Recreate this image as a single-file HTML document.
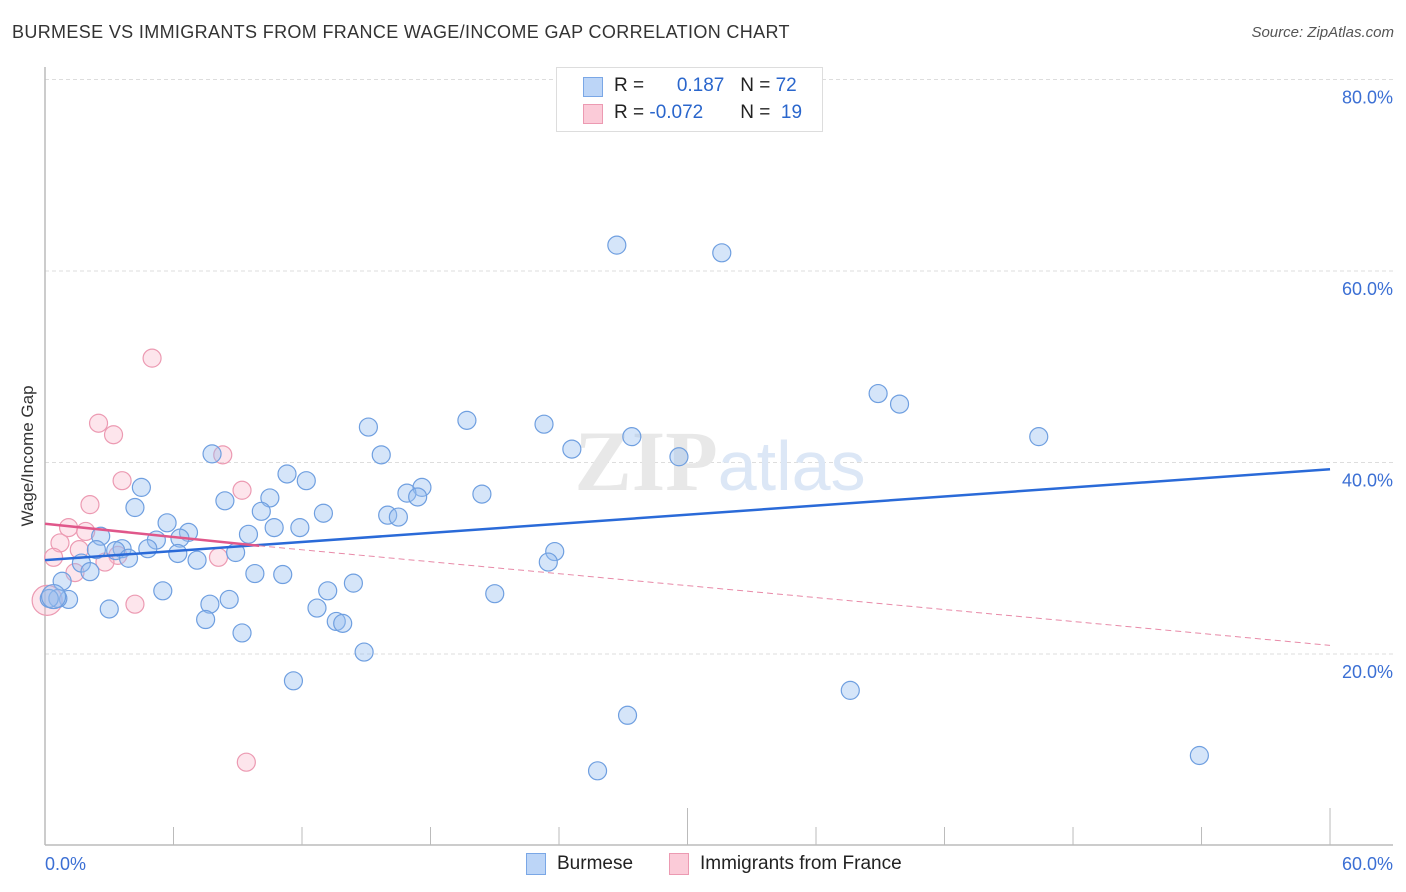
<!DOCTYPE html>
<html><head><meta charset="utf-8"><style>
body{margin:0;background:#fff;font-family:"Liberation Sans",sans-serif;}
#c{position:relative;width:1406px;height:892px;overflow:hidden;}
.t{position:absolute;white-space:nowrap;}
</style></head><body>
<div id="c">
<div class="t" style="left:12px;top:22px;font-size:18px;letter-spacing:0.35px;color:#333;">BURMESE VS IMMIGRANTS FROM FRANCE WAGE/INCOME GAP CORRELATION CHART</div>
<div class="t" style="right:12px;top:24px;font-size:15px;color:#555;font-style:italic;">Source: ZipAtlas.com</div>
<svg id="s" width="1406" height="892" style="position:absolute;left:0;top:0"></svg>
<div class="t" style="left:28px;top:456px;font-size:17px;color:#333;transform:translate(0,-50%) rotate(-90deg);transform-origin:center;width:0;display:flex;justify-content:center;"><span>Wage/Income Gap</span></div>
<div style="position:absolute;left:556px;top:67px;width:265px;height:63px;border:1px solid #ddd;background:#fff;">
 <div style="position:absolute;left:26px;top:9px;width:18px;height:18px;background:#bcd5f7;border:1px solid #7aa7e6"></div>
 <div class="t" style="left:57px;top:7px;font-size:19px;color:#222">R = <span style="color:#2a66cc;display:inline-block;width:75px;text-align:right">0.187</span> &nbsp; N = <span style="color:#2a66cc">72</span></div>
 <div style="position:absolute;left:26px;top:36px;width:18px;height:18px;background:#fbcbd8;border:1px solid #ec9ab2"></div>
 <div class="t" style="left:57px;top:34px;font-size:19px;color:#222">R = <span style="color:#2a66cc;display:inline-block;width:75px;text-align:left">-0.072</span> &nbsp; N = <span style="color:#2a66cc">&nbsp;19</span></div>
</div>
<div style="position:absolute;left:526px;top:853px;width:18px;height:20px;background:#bcd5f7;border:1px solid #7aa7e6"></div>
<div class="t" style="left:557px;top:853px;font-size:19px;color:#222">Burmese</div>
<div style="position:absolute;left:669px;top:853px;width:18px;height:20px;background:#fbcbd8;border:1px solid #ec9ab2"></div>
<div class="t" style="left:700px;top:853px;font-size:19px;color:#222">Immigrants from France</div>
</div>
<script>
const yTicks=[20,40,60,80];
const yTickLabels=["20.0%","40.0%","60.0%","80.0%"];
const xTickLabels=["0.0%","60.0%"];
const blueX=[26.7,31.6,38.9,39.9,46.4,19.7,23.3,15.1,27.4,24.6,29.6,7.8,15.7,11.3,12.2,4.5,20.4,17.6,16.9,17.4,10.5,8.4,4.2,10.1,13.0,16.0,16.5,5.7,10.7,11.9,6.7,2.6,9.5,6.3,5.2,2.4,3.6,3.3,4.8,6.2,8.9,3.9,23.8,23.5,7.1,1.7,2.1,9.8,11.1,14.4,0.8,13.2,5.5,21.0,1.1,0.6,0.2,8.6,7.7,3.0,12.7,13.6,13.9,7.5,9.2,14.9,11.6,37.6,27.2,25.8,53.9,0.4];
const blueY=[62.7,61.9,47.2,46.1,42.7,44.4,44.0,43.7,42.7,41.4,40.6,40.9,40.8,38.8,38.1,37.4,36.7,37.4,36.8,36.4,36.3,36.0,35.3,34.9,34.7,34.5,34.3,33.7,33.2,33.2,32.7,32.3,32.5,32.1,31.9,30.9,31.0,30.8,31.0,30.5,30.6,30.0,30.7,29.6,29.8,29.5,28.6,28.4,28.3,27.4,27.6,26.6,26.6,26.3,25.7,25.8,25.8,25.7,25.2,24.7,24.8,23.4,23.2,23.6,22.2,20.2,17.2,16.2,13.6,7.8,9.4,26.0];
const pinkX=[5.0,2.5,3.2,8.3,3.6,9.2,2.1,1.1,1.9,0.7,1.6,0.4,3.4,2.8,8.1,1.4,4.2,9.4,0.1];
const pinkY=[50.9,44.1,42.9,40.8,38.1,37.1,35.6,33.2,32.8,31.6,30.9,30.1,30.3,29.6,30.1,28.5,25.2,8.7,25.6];
const blueTrend=[[0,29.8],[60,39.3]];
const pinkTrend=[[0,33.6],[10,31.3],[60,20.9]];
const X0=45,X1=1330,Y0=845.5,PX=21.417,PY=9.575;
const sx=v=>X0+v*PX, sy=v=>Y0-v*PY;
const s=document.getElementById('s');const NS='http://www.w3.org/2000/svg';
function mk(t,a){const e=document.createElementNS(NS,t);for(const k in a)e.setAttribute(k,a[k]);s.appendChild(e);return e;}
yTicks.forEach((v,i)=>{
 const g=mk('line',{x1:45,x2:1393,y1:sy(v),y2:sy(v),stroke:'#ddd','stroke-dasharray':'4,3'});
 
 
 const t=mk('text',{x:1393,y:sy(v)+24,'text-anchor':'end','font-size':18,fill:'#3b6fd4','font-family':'Liberation Sans, sans-serif'});
 t.textContent=yTickLabels[i];
 
 
});
const ax=mk('line',{x1:45,x2:1393,y1:845,y2:845,stroke:'#bbb','stroke-width':1.5});


const ay=mk('line',{x1:45,x2:45,y1:67,y2:845,stroke:'#bbb','stroke-width':1.5});


for(let i=0;i<=10;i++){const v=i*6;const tk=mk('line',{x1:sx(v),x2:sx(v),y1:(i==5||i==10)?808:827,y2:845,stroke:'#bbb'});
 
 }
[[0,'start'],[60,'end']].forEach((p,i)=>{const t=mk('text',{x:i?1393:45,y:870,'text-anchor':p[1],'font-size':18,fill:'#3b6fd4','font-family':'Liberation Sans, sans-serif'});t.textContent=xTickLabels[i];
 
 });
const wm=mk('text',{x:720,y:490,'text-anchor':'middle','font-size':86,fill:'#e8e8e8','font-family':'Liberation Serif, serif','font-weight':'bold'});
wm.innerHTML='ZIP<tspan fill="#dce7f6" font-family="Liberation Sans, sans-serif" font-weight="normal" font-size="70">atlas</tspan>';


pinkX.forEach((v,i)=>{const c=mk('circle',{cx:sx(v),cy:sy(pinkY[i]),r:i==18?15:9,fill:'rgba(248,180,200,0.35)',stroke:'#ec9ab2','stroke-width':1.2});
 
 });
blueX.forEach((v,i)=>{const c=mk('circle',{cx:sx(v),cy:sy(blueY[i]),r:i==71?12:9,fill:'rgba(150,190,240,0.4)',stroke:'#6f9fe0','stroke-width':1.2});
 
 });
const bt=mk('line',{x1:sx(blueTrend[0][0]),y1:sy(blueTrend[0][1]),x2:sx(blueTrend[1][0]),y2:sy(blueTrend[1][1]),stroke:'#2a6ad8','stroke-width':2.5});


const pt=mk('line',{x1:sx(pinkTrend[0][0]),y1:sy(pinkTrend[0][1]),x2:sx(pinkTrend[1][0]),y2:sy(pinkTrend[1][1]),stroke:'#e0578a','stroke-width':2.5});


const pd=mk('line',{x1:sx(pinkTrend[1][0]),y1:sy(pinkTrend[1][1]),x2:sx(pinkTrend[2][0]),y2:sy(pinkTrend[2][1]),stroke:'#e88aa8','stroke-width':1,'stroke-dasharray':'6,4'});


</script>
</body></html>
